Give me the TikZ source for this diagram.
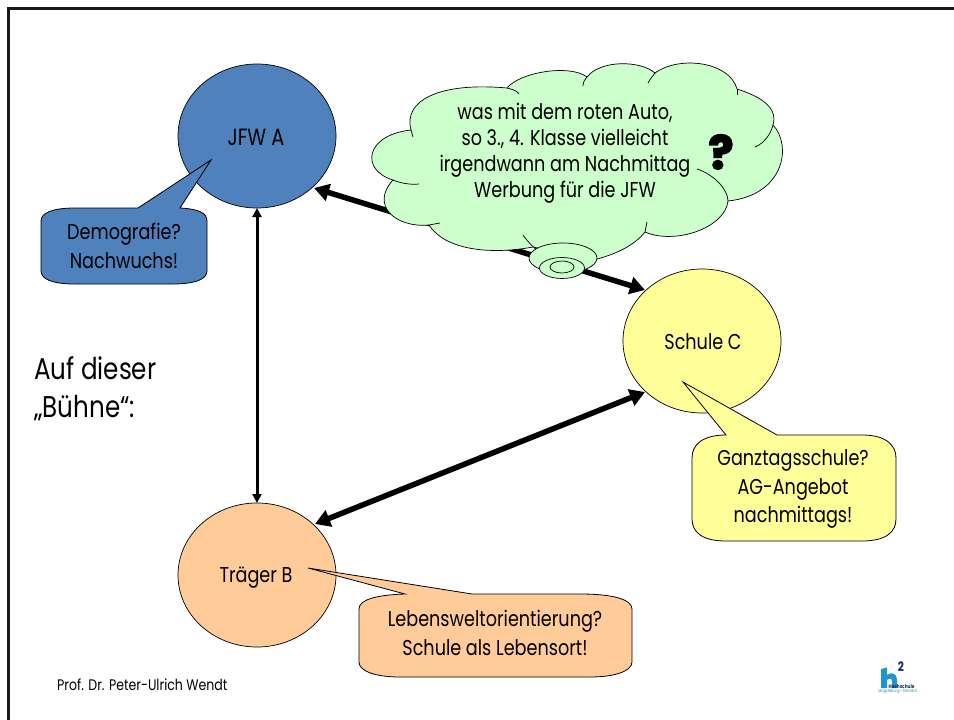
\documentclass[tikz,border=0pt]{standalone}
\usepackage{fontspec}
\setmainfont[FakeStretch=0.82]{Poppins}
\newfontfamily\qfont[BoldFeatures={FakeBold=4}]{Poppins}
\usetikzlibrary{arrows.meta}
\definecolor{blueF}{HTML}{4F81BD}
\definecolor{yellowF}{HTML}{FFFF99}
\definecolor{orangeF}{HTML}{FFCC99}
\definecolor{greenF}{HTML}{CCFFCC}
\definecolor{logoB}{HTML}{1B96CE}
\definecolor{logoD}{HTML}{14285A}
\tikzset{
  x=1pt,y=-1pt,
  lab/.style={align=center,font=\fontsize{21.5}{28.3}\selectfont,text=black,inner sep=0pt},
  cloudlab/.style={align=center,font=\fontsize{21.5}{26}\selectfont,text=black,inner sep=0pt},
  outl/.style={draw=black,line width=0.8pt},
  thin arrow/.style={line width=3pt,{Triangle[length=9pt,width=9pt]}-{Triangle[length=9pt,width=9pt]}},
  thick arrow/.style={line width=5.5pt,{Triangle[length=15pt,width=17pt]}-{Triangle[length=15pt,width=17pt]}},
}
\begin{document}
\begin{tikzpicture}
\useasboundingbox (0,0) rectangle (954,720);
\fill[white] (0,0) rectangle (954,720);
\draw[line width=2.6pt,color=black!90] (8.7,720) -- (8.7,8.7) -- (954,8.7);
% circles
\fill[blueF,draw=black,line width=0.7pt] (257,136) ellipse (79 and 72);
\fill[yellowF,draw=black,line width=0.7pt] (702,341) ellipse (79 and 72);
\fill[orangeF,draw=black,line width=0.7pt] (257,575) ellipse (79 and 72);
\node[lab] (a) at (256,137) {\fontsize{23.5}{28}\selectfont JFW A};
\node[lab] (c) at (703,342) {Schule C};
\node[lab] (b) at (256,578) {Träger B};
\coordinate (aS) at (257,208);
\coordinate (bN) at (257,503);
\coordinate (aE) at (314,188);
\coordinate (cNW) at (645,290);
\coordinate (cSW) at (645,392);
\coordinate (bNE) at (315,524);
\draw[thin arrow] (aS) -- (bN);
\draw[thick arrow] (aE) -- (cNW);
\draw[thick arrow] (cSW) -- (bNE);
% callouts
\path[fill=blueF,outl] (211,160) -- (180,208) .. controls (199,209) and (207,213) .. (207,221)
  -- (207,271) .. controls (207,279) and (196,284) .. (172,284) -- (75,284)
  .. controls (52,284) and (41,279) .. (41,271) -- (41,221) .. controls (41,213) and (52,208) .. (75,208) -- (138,208) -- cycle;
\node[lab] (d) at (124,246) {Demografie?\\Nachwuchs!};
\path[fill=yellowF,outl] (683,382) -- (777,435) -- (862,435) .. controls (886,435) and (896,445) .. (896,458)
  -- (896,519) .. controls (896,532) and (886,541) .. (862,541) -- (726,541)
  .. controls (702,541) and (692,532) .. (692,519) -- (692,458) .. controls (692,445) and (702,435) .. (726,435) -- cycle;
\node[lab] (g) at (793,489) {Ganztagsschule?\\AG-Angebot\\nachmittags!};
\path[fill=orangeF,outl] (308,568) -- (472,594) -- (580,594) .. controls (615,594) and (632,600) .. (632,609)
  -- (632,662) .. controls (632,671) and (615,677) .. (590,677) -- (400,677)
  .. controls (375,677) and (359,671) .. (359,662) -- (359,609) .. controls (359,600) and (375,595) .. (405,594) -- cycle;
\node[lab] (l) at (495,633) {Lebensweltorientierung?\\Schule als Lebensort!};
% cloud
\path[fill=greenF,draw=black,line width=0.7pt]
  (411,130) .. controls (403,100) and (440,82) .. (507,88)
  .. controls (520,72) and (570,64) .. (587,77)
  .. controls (600,60) and (640,60) .. (655,73)
  .. controls (680,55) and (730,62) .. (737,89)
  .. controls (762,97) and (778,108) .. (773,125)
  .. controls (792,145) and (785,195) .. (728,201)
  .. controls (725,228) and (675,245) .. (645,232)
  .. controls (635,245) and (615,255) .. (593,260)
  -- (533,247)
  .. controls (490,255) and (445,250) .. (429,225)
  .. controls (395,228) and (370,205) .. (393,180)
  .. controls (360,170) and (365,135) .. (411,130) -- cycle;
\draw[line width=0.7pt] (411,130) -- (413,137);
\draw[line width=0.7pt] (393,180) .. controls (400,183) and (410,185) .. (419,184);
\draw[line width=0.7pt] (429,225) -- (440,223);
\draw[line width=0.7pt] (507,88) .. controls (510,89) and (517,90) .. (519,94);
\draw[line width=0.7pt] (587,77) .. controls (585,79) and (583,82) .. (583,86);
\draw[line width=0.7pt] (655,73) .. controls (653,76) and (650,79) .. (648,83);
\draw[line width=0.7pt] (737,89) -- (737,95);
\draw[line width=0.7pt] (773,125) .. controls (771,133) and (765,143) .. (755,147);
\draw[line width=0.7pt] (697,169) .. controls (715,175) and (728,190) .. (728,201);
\draw[line width=0.7pt] (647,222) -- (645,232);
\draw[line width=0.7pt] (523,235) .. controls (527,241) and (532,246) .. (537,250);
\path[fill=greenF,draw=black,line width=0.7pt] (563,258) ellipse (34 and 15);
\path[fill=greenF,draw=black,line width=0.7pt] (562,268) ellipse (22.5 and 10.5);
\draw[line width=0.7pt] (562,267) ellipse (12 and 6);
\node[cloudlab] (t) at (565,153) {was mit dem roten Auto,\\so 3., 4. Klasse vielleicht\\irgendwann am Nachmittag\\Werbung für die JFW};
\node[inner sep=0pt,font=\fontsize{46}{46}\selectfont\qfont\bfseries] (q) at (721,152) {?};
\node[anchor=west,align=left,inner sep=0pt,font=\fontsize{30}{38}\selectfont] (bu) at (34,389) {Auf dieser\\„Bühne“:};
\node[anchor=west,inner sep=0pt,font=\fontsize{15.3}{15}\selectfont] (p) at (57,685) {Prof. Dr. Peter-Ulrich Wendt};
% logo
\fill[logoB] (881,669) -- (887,667.5) -- (887,675) .. controls (892,671) and (897,674) .. (897,680) -- (897,688) -- (892,688) -- (892,681) .. controls (892,678) and (889,678) .. (887,680) -- (887,688) -- (881,688) -- cycle;
\node[inner sep=0pt,text=logoD,font=\fontsize{13}{13}\selectfont\bfseries] (l2) at (901,667) {2};
\node[inner sep=0pt,text=logoD,font=\fontsize{5.2}{6}\selectfont\bfseries] (l3) at (901.5,686.5) {Hochschule};
\node[inner sep=0pt,text=logoB!70!gray,font=\fontsize{4.4}{4.4}\selectfont] (l4) at (897.5,691.5) {Magdeburg • Stendal};
\end{tikzpicture}
\end{document}
